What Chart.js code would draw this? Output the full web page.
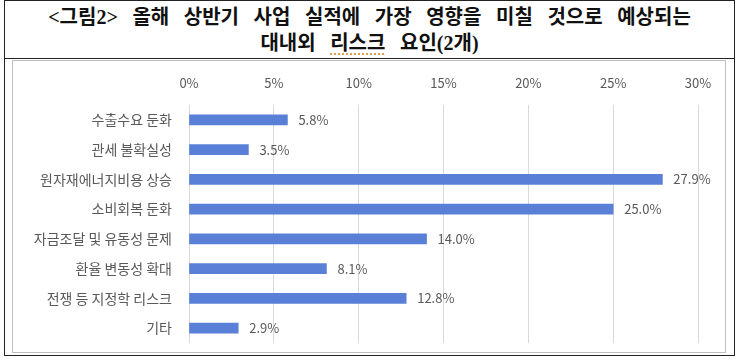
<!DOCTYPE html>
<html lang="ko">
<head>
<meta charset="utf-8">
<script src="https://cdn.jsdelivr.net/npm/chart.js@4.4.1/dist/chart.umd.min.js"></script>
<style>
  html, body { margin: 0; padding: 0; background: #fff; }
  body { width: 740px; height: 363px; position: relative; overflow: hidden; }
  #outer { position: absolute; left: 4px; top: 0px; width: 729px; height: 354px; border: 1px solid #222; box-sizing: content-box; }
  #titleRow { position: absolute; left: 0; top: 0; width: 729px; height: 57px; border-bottom: 1px solid #222; }
  .tline { position: absolute; left: 0; width: 729px; text-align: center; font-family: "Noto Sans CJK KR", "Liberation Serif", serif; font-weight: 700; font-size: 20px; color: #111; white-space: nowrap; line-height: 1; }
  .tline .lat { font-family: "Liberation Serif", serif; font-weight: 700; }
  #t1 { top: 5px; word-spacing: 9px; }
  #t2 { top: 31px; word-spacing: 9px; }
  .sp { text-decoration: underline dotted #d8a050; text-underline-offset: 3px; }
  #inner { position: absolute; left: 12px; top: 60px; width: 712px; height: 291px; border: 1px solid #bfbfbf; }
  canvas { display: block; }
</style>
</head>
<body>
<div id="outer">
  <div id="titleRow">
    <div class="tline" id="t1"><span class="lat">&lt;</span>그림<span class="lat">2&gt;</span> 올해 상반기 사업 실적에 가장 영향을 미칠 것으로 예상되는</div>
    <div class="tline" id="t2">대내외 <span class="sp">리스크</span> 요인<span class="lat">(2</span>개<span class="lat">)</span></div>
  </div>
</div>
<div id="inner"><canvas id="c" width="712" height="291"></canvas></div>
<script>
const categories = ['수출수요 둔화', '관세 불확실성', '원자재에너지비용 상승', '소비회복 둔화', '자금조달 및 유동성 문제', '환율 변동성 확대', '전쟁 등 지정학 리스크', '기타'];
const values = [5.8, 3.5, 27.9, 25.0, 14.0, 8.1, 12.8, 2.9];
const xTicks = [0, 5, 10, 15, 20, 25, 30];

const labelFont = '13px "Noto Sans CJK KR", "Noto Sans", sans-serif';
const valueLabels = {
  id: 'valueLabels',
  afterDatasetsDraw(chart) {
    const ctx = chart.ctx;
    const meta = chart.getDatasetMeta(0);
    ctx.save();
    ctx.font = labelFont;
    ctx.fillStyle = '#595959';
    ctx.textAlign = 'left';
    ctx.textBaseline = 'middle';
    meta.data.forEach((bar, i) => {
      ctx.fillText(values[i].toFixed(1) + '%', bar.x + 11, bar.y);
    });
    ctx.restore();
  }
};

new Chart(document.getElementById('c'), {
  type: 'bar',
  data: {
    labels: categories,
    datasets: [{
      data: values,
      backgroundColor: '#5a7fd6',
      borderWidth: 0,
      barThickness: 10
    }]
  },
  options: {
    indexAxis: 'y',
    responsive: false,
    animation: false,
    layout: { padding: { left: 0, right: 27, top: 0, bottom: 9 } },
    plugins: { legend: { display: false }, tooltip: { enabled: false }, title: { display: false } },
    scales: {
      x: {
        position: 'top',
        min: 0, max: 30,
        afterBuildTicks(scale) { scale.ticks = xTicks.map(v => ({ value: v })); },
        afterFit(scale) { scale.height = 44; scale.paddingLeft = 0; scale.paddingRight = 0; },
        grid: { color: '#d9d9d9', lineWidth: 1, drawTicks: false },
        border: { display: false },
        ticks: {
          padding: 14,
          color: '#595959',
          font: { family: '"Noto Sans CJK KR", "Noto Sans", sans-serif', size: 13 },
          callback: v => v + '%'
        }
      },
      y: {
        afterFit(scale) { scale.width = 176; scale.paddingTop = 0; scale.paddingBottom = 0; },
        grid: { display: false, drawTicks: false },
        border: { display: false },
        ticks: {
          padding: 17,
          color: '#595959',
          font: { family: '"Noto Sans CJK KR", "Noto Sans", sans-serif', size: 14 }
        }
      }
    }
  },
  plugins: [valueLabels]
});
</script>
</body>
</html>
